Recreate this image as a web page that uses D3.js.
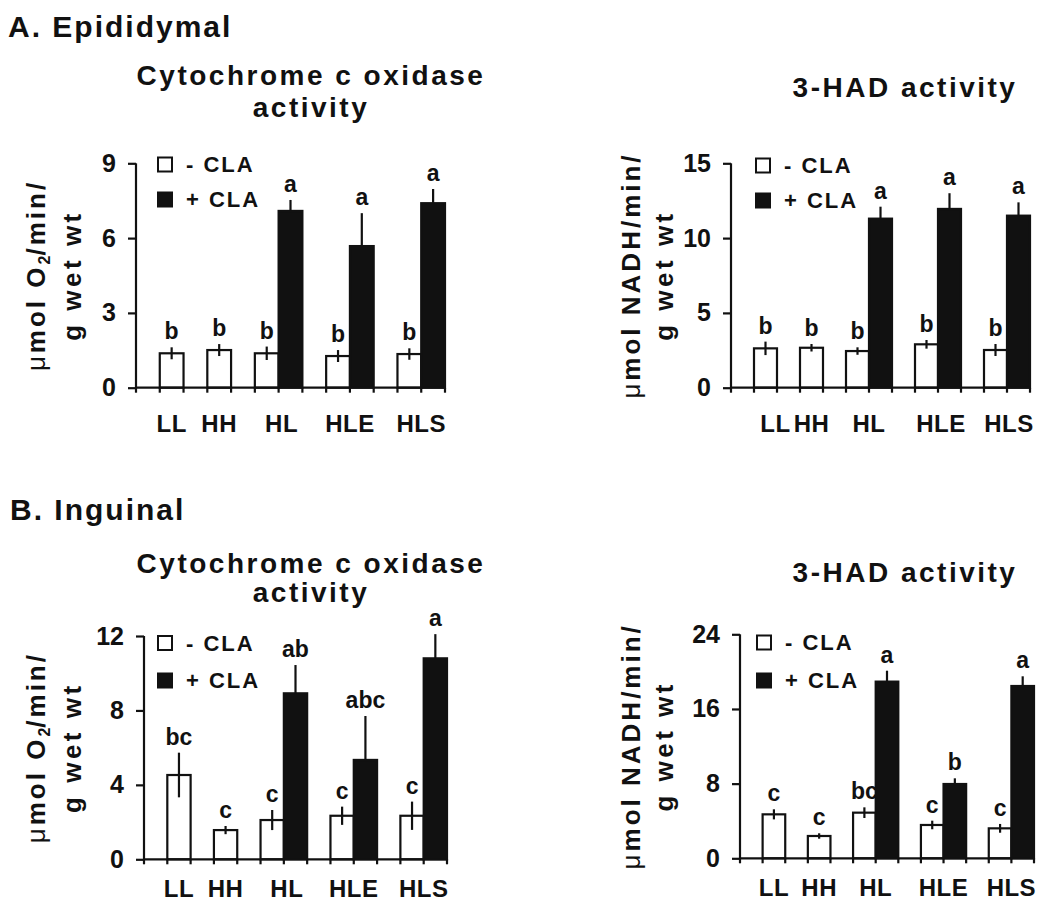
<!DOCTYPE html>
<html>
<head>
<meta charset="utf-8">
<script src="https://cdn.jsdelivr.net/npm/d3@7/dist/d3.min.js"></script>
<style>
  body { margin: 0; background: #fff; }
  text { font-family: "Liberation Sans", Arial, sans-serif; font-weight: bold; fill: #111; }
</style>
</head>
<body>
<svg id="fig" width="1050" height="903"></svg>
<script>
// groups on the x axis, and the slot order used by the original bar layout
const groups = ['LL', 'HH', 'HL', 'HLE', 'HLS'];
const slotOrder = ['gap', 'LL-', 'gap', 'HH-', 'gap', 'HL-', 'HL+', 'gap', 'HLE-', 'HLE+', 'gap', 'HLS-', 'HLS+'];
const legendLabels = ['- CLA', '+ CLA'];

// A. Epididymal - cytochrome c oxidase
const epiCoxMinus = [1.38, 1.51, 1.38, 1.27, 1.35];
const epiCoxMinusErr = [0.24, 0.24, 0.27, 0.24, 0.23];
const epiCoxPlus = [null, null, 7.09, 5.68, 7.40];
const epiCoxPlusErr = [null, null, 0.44, 1.32, 0.57];
const epiCoxLetMinus = ['b', 'b', 'b', 'b', 'b'];
const epiCoxLetPlus = [null, null, 'a', 'a', 'a'];

// A. Epididymal - 3-HAD
const epiHadMinus = [2.63, 2.67, 2.45, 2.90, 2.52];
const epiHadMinusErr = [0.45, 0.25, 0.25, 0.29, 0.40];
const epiHadPlus = [null, null, 11.30, 11.95, 11.50];
const epiHadPlusErr = [null, null, 0.80, 1.05, 0.89];
const epiHadLetMinus = ['b', 'b', 'b', 'b', 'b'];
const epiHadLetPlus = [null, null, 'a', 'a', 'a'];

// B. Inguinal - cytochrome c oxidase
const ingCoxMinus = [4.53, 1.57, 2.11, 2.34, 2.34];
const ingCoxMinusErr = [1.20, 0.22, 0.54, 0.49, 0.76];
const ingCoxPlus = [null, null, 8.92, 5.34, 10.80];
const ingCoxPlusErr = [null, null, 1.52, 2.36, 1.30];
const ingCoxLetMinus = ['bc', 'c', 'c', 'c', 'c'];
const ingCoxLetPlus = [null, null, 'ab', 'abc', 'a'];

// B. Inguinal - 3-HAD
const ingHadMinus = [4.71, 2.39, 4.89, 3.57, 3.21];
const ingHadMinusErr = [0.54, 0.29, 0.57, 0.46, 0.47];
const ingHadPlus = [null, null, 18.93, 7.96, 18.46];
const ingHadPlusErr = [null, null, 1.17, 0.61, 1.04];
const ingHadLetMinus = ['c', 'c', 'bc', 'c', 'c'];
const ingHadLetPlus = [null, null, 'a', 'b', 'a'];

const svg = d3.select('#fig');

svg.append('text').attr('x', 8).attr('y', 37)
  .attr('font-size', 30).attr('letter-spacing', 2).text('A. Epididymal');
svg.append('text').attr('x', 10).attr('y', 520)
  .attr('font-size', 30).attr('letter-spacing', 2).text('B. Inguinal');

function drawPanel(p) {
  const g = svg.append('g');

  const x = d3.scaleBand()
    .domain(d3.range(slotOrder.length))
    .range([p.x0, p.x1])
    .paddingInner(0).paddingOuter(0);

  const y = d3.scaleLinear()
    .domain([0, p.max])
    .range([p.y0, p.yTop]);

  // title
  const title = g.append('text')
    .attr('text-anchor', 'middle')
    .attr('font-size', 28)
    .attr('letter-spacing', 2.5);
  p.title.forEach((t, i) => {
    title.append('tspan').attr('x', p.titleX).attr('y', p.titleY[i]).text(t);
  });

  // y label, two rotated lines
  const cy = (p.y0 + p.yTop) / 2;
  const l1 = g.append('text')
    .attr('transform', `translate(${p.labX[0]},${cy}) rotate(-90)`)
    .attr('text-anchor', 'middle')
    .attr('font-size', 26)
    .attr('letter-spacing', 3);
  l1.append('tspan').attr('font-weight', 'normal').text('\u03bc');
  l1.append('tspan').text(p.unit[0]);
  if (p.unit[1]) {
    l1.append('tspan').attr('font-size', 16).attr('dy', 5).attr('letter-spacing', 0).text(p.unit[1]);
    l1.append('tspan').attr('dy', -5).text(p.unit[2]);
  }
  g.append('text')
    .attr('transform', `translate(${p.labX[1]},${cy}) rotate(-90)`)
    .attr('text-anchor', 'middle')
    .attr('font-size', 26)
    .attr('letter-spacing', 3.5)
    .text('g wet wt');

  // bars
  const bars = [];
  groups.forEach((grp, i) => {
    bars.push({ slot: slotOrder.indexOf(grp + '-'), v: p.minus[i], e: p.minusErr[i], let: p.letMinus[i], fill: '#fff' });
    if (p.plus[i] != null) {
      bars.push({ slot: slotOrder.indexOf(grp + '+'), v: p.plus[i], e: p.plusErr[i], let: p.letPlus[i], fill: '#111' });
    }
  });

  g.selectAll('rect.bar').data(bars).join('rect')
    .attr('class', 'bar')
    .attr('x', d => x(d.slot))
    .attr('y', d => y(d.v))
    .attr('width', x.bandwidth())
    .attr('height', d => y(0) - y(d.v))
    .attr('fill', d => d.fill)
    .attr('stroke', '#111')
    .attr('stroke-width', 2.2);

  g.selectAll('line.err').data(bars).join('line')
    .attr('class', 'err')
    .attr('x1', d => x(d.slot) + x.bandwidth() / 2)
    .attr('x2', d => x(d.slot) + x.bandwidth() / 2)
    .attr('y1', d => d.fill === '#fff' ? y(d.v - d.e) : y(d.v))
    .attr('y2', d => y(d.v + d.e))
    .attr('stroke', '#111')
    .attr('stroke-width', 2.2);

  g.selectAll('text.let').data(bars).join('text')
    .attr('class', 'let')
    .attr('x', d => x(d.slot) + x.bandwidth() / 2)
    .attr('y', d => y(d.v + d.e) - 8)
    .attr('text-anchor', 'middle')
    .attr('font-size', 23)
    .text(d => d.let);

  // y axis
  const yAxis = g.append('g')
    .attr('transform', `translate(${p.x0},0)`)
    .call(d3.axisLeft(y).tickValues(p.ticks).tickSize(8).tickPadding(12).tickFormat(d3.format('d')));
  yAxis.select('.domain').attr('stroke', '#111').attr('stroke-width', 2.2).attr('d', `M0,${p.y0}V${p.yTop}`);
  yAxis.selectAll('.tick line').attr('stroke', '#111').attr('stroke-width', 2.2);
  yAxis.selectAll('.tick text')
    .attr('font-size', 25)
    .attr('font-family', '"Liberation Sans", Arial, sans-serif')
    .attr('font-weight', 'bold')
    .attr('fill', '#111');

  // x axis with a tick at every slot boundary
  const bounds = d3.range(slotOrder.length + 1).map(k => p.x0 + k * x.bandwidth());
  g.append('line')
    .attr('x1', p.x0 - 1).attr('x2', p.x1)
    .attr('y1', y(0)).attr('y2', y(0))
    .attr('stroke', '#111').attr('stroke-width', 2.2);
  g.selectAll('line.xt').data(bounds).join('line')
    .attr('class', 'xt')
    .attr('x1', d => d).attr('x2', d => d)
    .attr('y1', y(0)).attr('y2', y(0) + 5)
    .attr('stroke', '#111').attr('stroke-width', 2.2);

  // group labels
  g.selectAll('text.cat').data(groups).join('text')
    .attr('class', 'cat')
    .attr('x', (grp, i) => {
      const s = slotOrder.indexOf(grp + '-');
      const base = p.plus[i] != null ? x(s) + x.bandwidth() : x(s) + x.bandwidth() / 2;
      return base + (p.catDx[i] || 0);
    })
    .attr('y', y(0) + p.catDy)
    .attr('text-anchor', 'middle')
    .attr('font-size', 24)
    .attr('letter-spacing', 0.5)
    .text(d => d);

  // legend
  const fills = ['#fff', '#111'];
  legendLabels.forEach((t, i) => {
    g.append('rect')
      .attr('x', p.legX).attr('y', p.legY[i])
      .attr('width', 14).attr('height', 14)
      .attr('fill', fills[i]).attr('stroke', '#111').attr('stroke-width', 2);
    g.append('text')
      .attr('x', p.legX + 28).attr('y', p.legY[i] + 14.5)
      .attr('font-size', 22).attr('letter-spacing', 2)
      .text(t);
  });
}

drawPanel({
  x0: 136, x1: 445, y0: 387.7, yTop: 163.3, max: 9, ticks: [0, 3, 6, 9],
  minus: epiCoxMinus, minusErr: epiCoxMinusErr, plus: epiCoxPlus, plusErr: epiCoxPlusErr,
  letMinus: epiCoxLetMinus, letPlus: epiCoxLetPlus,
  title: ['Cytochrome c oxidase', 'activity'], titleX: 311, titleY: [85, 117],
  unit: ['mol O', '2', '/min/'], labX: [45, 81],
  legX: 158, legY: [157.5, 192.5], catDx: [0, 0, 3, 0, 0], catDy: 44
});

drawPanel({
  x0: 731, x1: 1030, y0: 387.7, yTop: 163.3, max: 15, ticks: [0, 5, 10, 15],
  minus: epiHadMinus, minusErr: epiHadMinusErr, plus: epiHadPlus, plusErr: epiHadPlusErr,
  letMinus: epiHadLetMinus, letPlus: epiHadLetPlus,
  title: ['3-HAD activity'], titleX: 905, titleY: [97],
  unit: ['mol NADH/min/'], labX: [640, 673],
  legX: 756, legY: [158.5, 193.5], catDx: [10, 0, 0, 3, 2], catDy: 44
});

drawPanel({
  x0: 144, x1: 447, y0: 859.3, yTop: 636, max: 12, ticks: [0, 4, 8, 12],
  minus: ingCoxMinus, minusErr: ingCoxMinusErr, plus: ingCoxPlus, plusErr: ingCoxPlusErr,
  letMinus: ingCoxLetMinus, letPlus: ingCoxLetPlus,
  title: ['Cytochrome c oxidase', 'activity'], titleX: 311, titleY: [573, 602],
  unit: ['mol O', '2', '/min/'], labX: [45, 81],
  legX: 158, legY: [636, 673.5], catDx: [0, 0, 3, 0, 0], catDy: 38
});

drawPanel({
  x0: 740, x1: 1034, y0: 858.3, yTop: 634.3, max: 24, ticks: [0, 8, 16, 24],
  minus: ingHadMinus, minusErr: ingHadMinusErr, plus: ingHadPlus, plusErr: ingHadPlusErr,
  letMinus: ingHadLetMinus, letPlus: ingHadLetPlus,
  title: ['3-HAD activity'], titleX: 905, titleY: [582],
  unit: ['mol NADH/min/'], labX: [640, 673],
  legX: 757, legY: [635.5, 673.5], catDx: [0, 0, 0, 0, 0], catDy: 38
});
</script>
</body>
</html>
